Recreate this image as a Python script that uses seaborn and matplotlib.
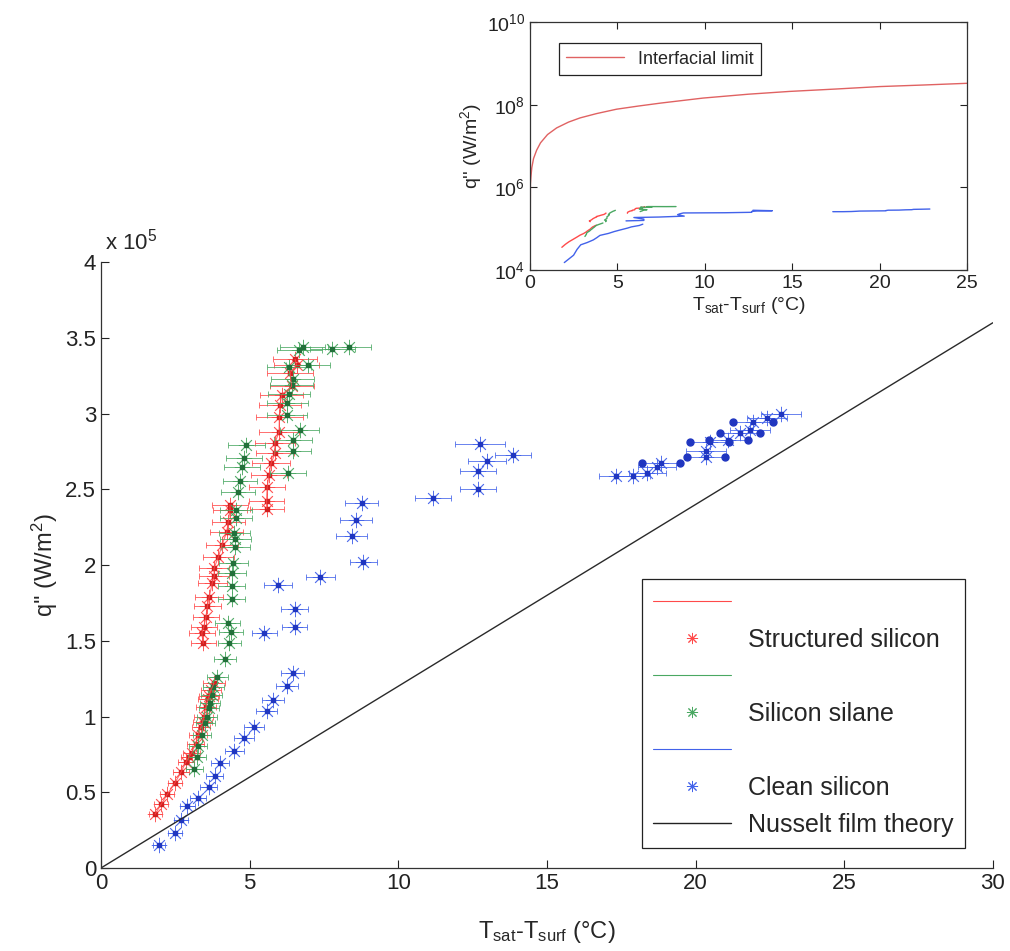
import numpy as np
import pandas as pd
import seaborn as sns
import matplotlib.pyplot as plt
from matplotlib.lines import Line2D
from matplotlib.ticker import FuncFormatter

# q'' values below are in units of 1e5 W/m^2, dT in degC

# structured silicon (three runs)
struct_dt = [1.82, 2.02, 2.23, 2.49, 2.69, 2.86, 2.97, 3.05, 3.18, 3.27, 3.36, 3.42, 3.46, 3.53, 3.59, 3.64, 3.70, 3.80,
             3.44, 3.39, 3.46, 3.53, 3.58, 3.64, 3.74, 3.81, 3.80, 3.95, 4.07, 4.23, 4.28, 4.34, 4.34,
             5.57, 5.57, 5.59, 5.65, 5.72, 5.85, 5.85, 5.99, 6.00, 6.02, 6.08, 6.41, 6.36, 6.58, 6.53]
struct_q = [0.356, 0.42, 0.486, 0.563, 0.632, 0.70, 0.735, 0.761, 0.82, 0.878, 0.933, 0.966, 0.999, 1.065, 1.113, 1.135, 1.175, 1.219,
            1.483, 1.549, 1.593, 1.659, 1.729, 1.791, 1.879, 1.93, 1.978, 2.055, 2.132, 2.22, 2.285, 2.363, 2.40,
            2.373, 2.423, 2.516, 2.594, 2.671, 2.737, 2.807, 2.88, 2.98, 3.055, 3.125, 3.18, 3.27, 3.32, 3.36]
struct_xerr = [0.22, 0.23, 0.24, 0.25, 0.26, 0.27, 0.28, 0.28, 0.29, 0.30, 0.31, 0.31, 0.32, 0.33, 0.34, 0.34, 0.35, 0.36,
               0.42, 0.43, 0.44, 0.45, 0.46, 0.47, 0.49, 0.50, 0.50, 0.52, 0.53, 0.55, 0.56, 0.58, 0.60,
               0.57, 0.58, 0.60, 0.62, 0.63, 0.65, 0.66, 0.68, 0.80, 0.72, 0.73, 0.74, 0.76, 0.77, 0.75]
struct_run = [0] * 18 + [1] * 15 + [2] * 15

# silicon silane
silane_dt = [3.14, 3.22, 3.25, 3.40, 3.50, 3.56, 3.62, 3.67, 3.72, 3.78, 3.91, 4.17,
             4.32, 4.37, 4.26, 4.40, 4.40, 4.40, 4.45, 4.52, 4.52, 4.48, 4.54, 4.54, 4.62, 4.68, 4.75, 4.81, 4.88,
             6.30, 6.45, 6.45, 6.69, 6.25, 6.27, 6.32, 6.41, 6.45, 6.32, 6.97, 6.67, 6.78, 7.78, 8.35]
silane_q = [0.651, 0.735, 0.805, 0.88, 0.96, 0.999, 1.054, 1.087, 1.14, 1.197, 1.26, 1.377,
            1.483, 1.557, 1.62, 1.775, 1.863, 1.95, 2.015, 2.12, 2.17, 2.21, 2.31, 2.363, 2.48, 2.556, 2.65, 2.71, 2.79,
            2.605, 2.75, 2.825, 2.89, 2.99, 3.07, 3.13, 3.19, 3.23, 3.31, 3.32, 3.42, 3.44, 3.43, 3.44]
silane_xerr = [0.28, 0.30, 0.30, 0.31, 0.32, 0.33, 0.34, 0.34, 0.35, 0.36, 0.36, 0.38,
               0.40, 0.41, 0.42, 0.45, 0.46, 0.48, 0.49, 0.50, 0.51, 0.52, 0.54, 0.55, 0.57, 0.58, 0.60, 0.61, 0.62,
               0.60, 0.63, 0.64, 0.66, 0.68, 0.69, 0.70, 0.71, 0.72, 0.73, 0.74, 0.75, 0.76, 0.75, 0.73]
silane_run = [0] * 12 + [1] * 17 + [2] * 15

# clean silicon
clean_dt = [1.96, 2.49, 2.69, 2.90, 3.27, 3.62, 3.82, 4.00, 4.49, 4.82, 5.15, 5.57, 5.80, 6.25, 6.45,
            5.49, 6.51, 6.51, 5.94, 7.38, 8.82, 8.44, 8.57, 8.77, 11.17, 12.68, 12.68, 12.98, 13.86, 12.75,
            17.32, 17.88, 18.38, 18.69, 18.84, 20.35, 20.35, 20.48, 21.10, 21.49, 21.83, 21.94, 22.41, 22.87]
clean_q = [0.152, 0.229, 0.317, 0.409, 0.464, 0.537, 0.609, 0.691, 0.772, 0.856, 0.933, 1.036, 1.11, 1.20, 1.29,
           1.55, 1.59, 1.71, 1.87, 1.92, 2.02, 2.19, 2.30, 2.41, 2.44, 2.50, 2.62, 2.69, 2.73, 2.80,
           2.587, 2.587, 2.61, 2.65, 2.675, 2.715, 2.75, 2.81, 2.825, 2.87, 2.89, 2.945, 2.97, 3.00]
clean_xerr = [0.20, 0.22, 0.23, 0.25, 0.26, 0.28, 0.29, 0.30, 0.32, 0.33, 0.34, 0.36, 0.37, 0.38, 0.39,
              0.42, 0.43, 0.45, 0.47, 0.48, 0.45, 0.52, 0.53, 0.55, 0.60, 0.60, 0.62, 0.64, 0.60, 0.84,
              0.57, 0.60, 0.62, 0.64, 0.65, 0.65, 0.66, 0.66, 0.66, 0.67, 0.67, 0.67, 0.68, 0.68]
clean_run = [0] * 15 + [1] * 15 + [2] * 14
# points whose error bar ends show as filled dots
clean_dotcap = [False] * 30 + [False, False, False, False, True, True, False, True, True, True, False, True, False, False]

nusselt_dt = [0, 30]
nusselt_q = [0, 3.6]

interface_dt = [0.005, 0.02, 0.05, 0.1, 0.2, 0.38, 0.6, 1.0, 1.52, 2.2, 2.86, 3.8, 4.95, 6.2, 7.5,
                9.9, 12.5, 14.85, 17.5, 20, 22.5, 25]
interface_q = [1.2e4, 1.2e6, 1.8e6, 3.0e6, 5.0e6, 8.0e6, 1.2e7, 1.9e7, 2.75e7, 3.8e7, 4.8e7, 6.1e7, 7.8e7, 9.3e7, 1.1e8,
               1.45e8, 1.8e8, 2.1e8, 2.4e8, 2.75e8, 3.0e8, 3.3e8]

names = ["Structured silicon", "Silicon silane", "Clean silicon"]
colors = {"Structured silicon": "#ff4a4a", "Silicon silane": "#4aa862", "Clean silicon": "#4262ea"}
dark = {"Structured silicon": "#d02020", "Silicon silane": "#22703a", "Clean silicon": "#2036c0"}

df = pd.concat([
    pd.DataFrame({"dt": struct_dt, "q": struct_q, "xerr": struct_xerr, "run": struct_run,
                  "series": names[0], "dotcap": False}),
    pd.DataFrame({"dt": silane_dt, "q": silane_q, "xerr": silane_xerr, "run": silane_run,
                  "series": names[1], "dotcap": False}),
    pd.DataFrame({"dt": clean_dt, "q": clean_q, "xerr": clean_xerr, "run": clean_run,
                  "series": names[2], "dotcap": clean_dotcap}),
], ignore_index=True)
df["q_wm2"] = df["q"] * 1e5

sns.set_theme(style="ticks")
plt.rcParams["font.family"] = ["Liberation Sans", "DejaVu Sans"]
plt.rcParams["mathtext.fontset"] = "custom"
plt.rcParams["mathtext.rm"] = "Liberation Sans"
plt.rcParams["mathtext.it"] = "Liberation Sans:italic"
plt.rcParams["xtick.direction"] = "in"
plt.rcParams["ytick.direction"] = "in"

fig = plt.figure(figsize=(10.1, 9.51), dpi=100)
ax = fig.add_axes([0.100, 0.0873, 0.883, 0.637])

ast = (8, 2, 0)
for name in names:
    g = df[df.series == name]
    c = colors[name]
    ax.errorbar(g.dt, g.q, xerr=g.xerr, fmt="none", ecolor=c, elinewidth=0.7,
                capsize=2.5, capthick=0.7, alpha=0.8)
    ax.plot(g.dt, g.q, ls="none", marker=ast, ms=11, mec=c, mew=0.6, alpha=0.9)
    ax.plot(g.dt, g.q, ls="none", marker="s", ms=2.2, color=dark[name])

# red runs drawn joined
sns.lineplot(data=df[df.series == names[0]], x="dt", y="q", units="run", estimator=None,
             sort=False, color=colors[names[0]], lw=0.8, alpha=0.8, ax=ax, legend=False)

caps = df[df.dotcap]
ax.plot(caps.dt - caps.xerr, caps.q, "o", ms=5, color=dark[names[2]])
ax.plot(caps.dt + caps.xerr, caps.q, "o", ms=5, color=dark[names[2]])

sns.lineplot(x=nusselt_dt, y=nusselt_q, color="#2a2a2a", lw=1.0, ax=ax)

ax.set_xlim(0, 30)
ax.set_ylim(0, 4)
ax.set_xticks(np.arange(0, 31, 5))
ax.set_yticks(np.arange(0, 4.01, 0.5))
ax.yaxis.set_major_formatter(FuncFormatter(lambda v, p: f"{v:g}"))
ax.spines[["top", "right"]].set_visible(False)
for s in ax.spines.values():
    s.set_color("#333333")
    s.set_linewidth(0.9)
ax.tick_params(labelsize=16, length=6, width=0.8, colors="#222222")
ax.set_xlabel(r"T$_{\mathrm{sat}}$-T$_{\mathrm{surf}}$ (°C)", fontsize=17, labelpad=18)
ax.set_ylabel(r"q'' (W/m$^2$)", fontsize=17, labelpad=4)
ax.text(0.005, 1.012, r"x 10$^5$", transform=ax.transAxes, fontsize=16, va="bottom", ha="left")

handles = [
    Line2D([], [], color=colors[names[0]], lw=0.8),
    Line2D([], [], ls="none", marker=ast, ms=8, mec=colors[names[0]], mew=0.7),
    Line2D([], [], color=colors[names[1]], lw=0.8),
    Line2D([], [], ls="none", marker=ast, ms=8, mec=colors[names[1]], mew=0.7),
    Line2D([], [], color=colors[names[2]], lw=0.8),
    Line2D([], [], ls="none", marker=ast, ms=8, mec=colors[names[2]], mew=0.7),
    Line2D([], [], color="#222222", lw=1.0),
]
labels = ["", names[0], "", names[1], "", names[2], "Nusselt film theory"]
leg = ax.legend(handles, labels, loc="lower right", bbox_to_anchor=(0.9686, 0.033), borderaxespad=0,
                fontsize=18, frameon=True, fancybox=False, edgecolor="#222222", framealpha=1,
                handlelength=3.1, labelspacing=0.52, borderpad=0.45, handletextpad=0.7)
leg.get_frame().set_linewidth(0.9)

# inset, log scale
ins = fig.add_axes([0.5248, 0.716, 0.4327, 0.2608])
sns.lineplot(x=interface_dt, y=interface_q, color="#e06262", lw=1.0, ax=ins, label="Interfacial limit")
sns.lineplot(data=df, x="dt", y="q_wm2", hue="series", units="run", estimator=None, sort=False,
             palette=colors, lw=1.0, ax=ins, legend=False)
ins.set_yscale("log")
ins.set_xlim(0, 25)
ins.set_ylim(1e4, 1e10)
ins.set_yticks([1e4, 1e6, 1e8, 1e10])
ins.minorticks_off()
ins.set_xticks(np.arange(0, 26, 5))
ins.tick_params(labelsize=14, length=5, width=0.8, top=True, right=True, colors="#222222")
for s in ins.spines.values():
    s.set_color("#333333")
    s.set_linewidth(0.9)
ins.set_xlabel(r"T$_{\mathrm{sat}}$-T$_{\mathrm{surf}}$ (°C)", fontsize=14, labelpad=2)
ins.set_ylabel(r"q'' (W/m$^2$)", fontsize=14, labelpad=2)
ileg = ins.legend(loc="upper left", bbox_to_anchor=(0.045, 0.95), fontsize=13, frameon=True,
                  fancybox=False, edgecolor="#222222", framealpha=1, handlelength=3.2)
ileg.get_frame().set_linewidth(0.9)

fig.savefig("out.png", dpi=100)
